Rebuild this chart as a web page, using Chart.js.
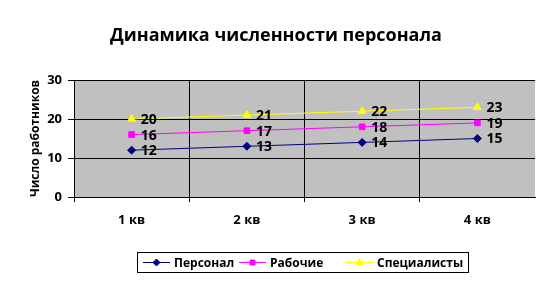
<!DOCTYPE html>
<html><head><meta charset="utf-8">
<script src="https://cdn.jsdelivr.net/npm/chart.js@4/dist/chart.umd.min.js"></script>
<style>html,body{margin:0;padding:0;background:#fff}#wrap{width:552px;height:282px}</style>
</head><body><div id="wrap"><canvas id="c" width="552" height="282"></canvas></div>
<script>
const categories = ['1 кв', '2 кв', '3 кв', '4 кв'];
const personal = [12, 13, 14, 15];
const workers = [16, 17, 18, 19];
const specialists = [20, 21, 22, 23];
const yTicks = [0, 10, 20, 30];
const chartTitle = 'Динамика численности персонала';
const yTitle = 'Число работников';
const FONT = "'Open Sans', 'Noto Sans', sans-serif";

const bgPlugin = {
  id: 'bg',
  beforeDraw(chart) {
    const a = chart.chartArea, ctx = chart.ctx;
    ctx.save(); ctx.fillStyle = '#C0C0C0';
    ctx.fillRect(a.left, a.top, a.right - a.left, a.bottom - a.top);
    ctx.restore();
  }
};
const labelPlugin = {
  id: 'vals',
  afterDatasetsDraw(chart) {
    const ctx = chart.ctx;
    ctx.save();
    ctx.font = 'bold 14px ' + FONT;
    ctx.fillStyle = '#000'; ctx.textAlign = 'left'; ctx.textBaseline = 'middle';
    chart.data.datasets.forEach((ds, i) => {
      chart.getDatasetMeta(i).data.forEach((pt, j) => {
        ctx.fillText(String(ds.data[j]), pt.x + 9, pt.y + 1);
      });
    });
    ctx.restore();
  }
};
const legendPlugin = {
  id: 'customLegend',
  afterDraw(chart) {
    const ctx = chart.ctx;
    const box = {x: 137.5, y: 252.5, w: 331, h: 20};
    ctx.save();
    ctx.strokeStyle = '#000'; ctx.lineWidth = 1;
    ctx.strokeRect(box.x, box.y, box.w, box.h);
    ctx.font = 'bold 12px ' + FONT;
    ctx.textBaseline = 'middle'; ctx.textAlign = 'left';
    const cy = box.y + box.h / 2;
    const lineStarts = [143, 239, 346];
    chart.data.datasets.forEach((ds, i) => {
      const x0 = lineStarts[i], x1 = x0 + 27;
      ctx.strokeStyle = ds.borderColor; ctx.fillStyle = ds.borderColor; ctx.lineWidth = 1;
      ctx.beginPath(); ctx.moveTo(x0, cy); ctx.lineTo(x1, cy); ctx.stroke();
      Chart.helpers.drawPoint(ctx, {pointStyle: ds.pointStyle, radius: ds.pointRadius - 0.5, rotation: 0, borderWidth: 1}, (x0 + x1) / 2, cy);
      ctx.fillStyle = '#000';
      ctx.fillText(ds.label, x1 + 4, cy + 1);
    });
    ctx.restore();
  }
};

function ds(label, data, color, style, r) {
  return {label, data, borderColor: color, backgroundColor: color, pointBackgroundColor: color,
    pointBorderColor: color, pointStyle: style, pointRadius: r, pointHoverRadius: r, borderWidth: 1, tension: 0};
}

new Chart(document.getElementById('c'), {
  type: 'line',
  data: {
    labels: categories,
    datasets: [
      ds('Персонал', personal, '#000080', 'rectRot', 4),
      ds('Рабочие', workers, '#FF00FF', 'rect', 4),
      ds('Специалисты', specialists, '#FFFF00', 'triangle', 4.5)
    ]
  },
  options: {
    responsive: false, animation: false, devicePixelRatio: 1,
    layout: {padding: {left: 17, right: 17, top: 0, bottom: 55}},
    plugins: {
      legend: {display: false}, tooltip: {enabled: false},
      title: {display: true, text: chartTitle, color: '#000',
        font: {family: FONT, size: 18, weight: 'bold', lineHeight: 1.2},
        padding: {top: 25, bottom: 33.4}}
    },
    scales: {
      x: {
        offset: true,
        grid: {offset: true, color: c => (c.type === 'tick' ? '#000' : 'transparent'), lineWidth: 1, tickLength: 5, drawOnChartArea: true},
        border: {color: '#000', width: 1},
        ticks: {color: '#000', font: {family: FONT, size: 13, weight: 'bold'}, padding: 10, maxRotation: 0},
        afterFit(s) { s.height = 30; }
      },
      y: {
        min: 0, max: 30,
        afterBuildTicks(s) { s.ticks = yTicks.map(v => ({value: v})); },
        grid: {color: '#000', lineWidth: 1, tickLength: 6},
        border: {color: '#000', width: 1},
        ticks: {color: '#000', font: {family: FONT, size: 13, weight: 'bold'}, padding: 6},
        title: {display: true, text: yTitle, color: '#000', font: {family: FONT, size: 12, weight: 'bold', lineHeight: 1.2}, padding: {top: 11, bottom: 0}},
        afterFit(s) { s.width = 57; }
      }
    }
  },
  plugins: [bgPlugin, labelPlugin, legendPlugin]
});
</script></body></html>
